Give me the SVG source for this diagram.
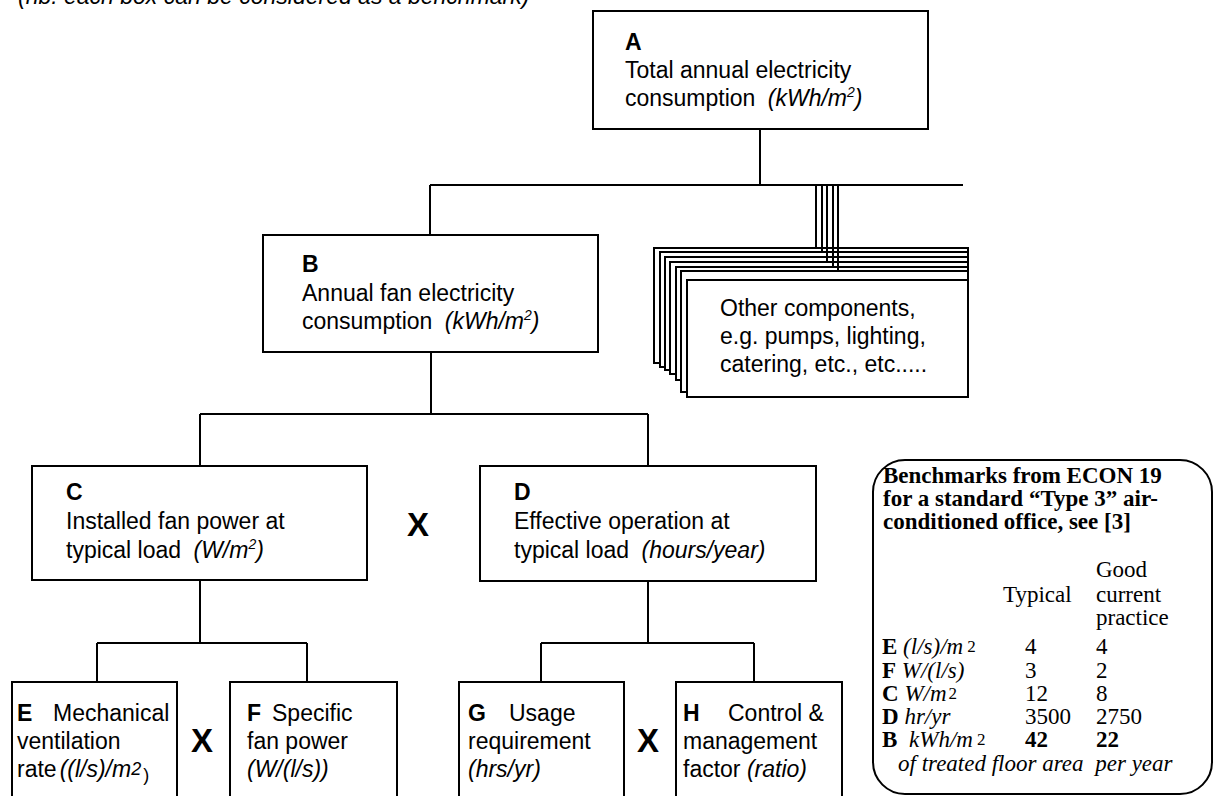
<svg xmlns="http://www.w3.org/2000/svg" width="1214" height="796" viewBox="0 0 1214 796">
<style>
.box{fill:#fff;stroke:#000;stroke-width:2}
.ln{fill:none;stroke:#000;stroke-width:2}
.t{font-family:"Liberation Sans",Arial,Helvetica,sans-serif;font-size:23px;fill:#000}
.b{font-weight:bold}
.i{font-style:italic}
.x{font-family:"Liberation Sans",Arial,Helvetica,sans-serif;font-size:33px;font-weight:bold;fill:#000;text-anchor:middle}
.s{font-family:"Liberation Serif","Times New Roman",serif;font-size:23px;fill:#000}
</style>
<rect width="1214" height="796" fill="#fff"/>
<text class="t i" x="18" y="4" font-size="17">(nb: each box can be considered as a benchmark)</text>

<g id="nodeA">
<rect class="box" x="593" y="11" width="335" height="118"/>
<text class="t b" x="625" y="50">A</text>
<text class="t" x="625" y="78">Total annual electricity</text>
<text class="t" x="625" y="106">consumption <tspan class="i" dx="6">(kWh/m</tspan><tspan class="i" font-size="14" dy="-9">2</tspan><tspan class="i" dy="9">)</tspan></text>
</g>

<g id="nodeB">
<rect class="box" x="263" y="235" width="335" height="117"/>
<text class="t b" x="302" y="272">B</text>
<text class="t" x="302" y="301">Annual fan electricity</text>
<text class="t" x="302" y="329">consumption <tspan class="i" dx="6">(kWh/m</tspan><tspan class="i" font-size="14" dy="-9">2</tspan><tspan class="i" dy="9">)</tspan></text>
</g>

<g id="nodeOther">
<rect class="box" x="654" y="248" width="314" height="115"/>
<rect class="box" x="660" y="252" width="308" height="115"/>
<rect class="box" x="665" y="257" width="303" height="113"/>
<rect class="box" x="670" y="262" width="298" height="112"/>
<rect class="box" x="676" y="267" width="292" height="113"/>
<rect class="box" x="681" y="271" width="287" height="121"/>
<rect class="box" x="687" y="280" width="281" height="117"/>
<text class="t" x="720" y="316">Other components,</text>
<text class="t" x="720" y="344">e.g. pumps, lighting,</text>
<text class="t" x="720" y="372">catering, etc., etc.....</text>
</g>

<g id="nodeC">
<rect class="box" x="32" y="466" width="335" height="114"/>
<text class="t b" x="66" y="500">C</text>
<text class="t" x="66" y="529">Installed fan power at</text>
<text class="t" x="66" y="558">typical load <tspan class="i" dx="6">(W/m</tspan><tspan class="i" font-size="14" dy="-9">2</tspan><tspan class="i" dy="9">)</tspan></text>
</g>

<g id="nodeD">
<rect class="box" x="480" y="466" width="336" height="115"/>
<text class="t b" x="514" y="500">D</text>
<text class="t" x="514" y="529">Effective operation at</text>
<text class="t" x="514" y="558">typical load <tspan class="i" dx="6">(hours/year)</tspan></text>
</g>

<g id="nodeE">
<rect class="box" x="12" y="682" width="165" height="130"/>
<text class="t" x="17" y="721"><tspan class="b">E</tspan><tspan x="53">Mechanical</tspan></text>
<text class="t" x="17" y="749">ventilation</text>
<text class="t" x="17" y="777">rate<tspan class="i" dx="3">((l/s)/m</tspan><tspan class="i" font-size="18" dy="-2">2</tspan><tspan font-size="18" dx="2" dy="6">)</tspan></text>
</g>

<g id="nodeF">
<rect class="box" x="230" y="682" width="167" height="130"/>
<text class="t" x="247" y="721"><tspan class="b">F</tspan><tspan x="272">Specific</tspan></text>
<text class="t" x="247" y="749">fan power</text>
<text class="t i" x="247" y="777">(W/(l/s))</text>
</g>

<g id="nodeG">
<rect class="box" x="459" y="682" width="165" height="130"/>
<text class="t" x="468" y="721"><tspan class="b">G</tspan><tspan x="509">Usage</tspan></text>
<text class="t" x="468" y="749">requirement</text>
<text class="t i" x="468" y="777">(hrs/yr)</text>
</g>

<g id="nodeH">
<rect class="box" x="676" y="682" width="166" height="130"/>
<text class="t" x="683" y="721"><tspan class="b">H</tspan><tspan x="728">Control &amp;</tspan></text>
<text class="t" x="683" y="749">management</text>
<text class="t" x="683" y="777">factor <tspan class="i">(ratio)</tspan></text>
</g>

<g id="operators">
<text class="x" x="418" y="536">X</text>
<text class="x" x="202" y="752">X</text>
<text class="x" x="648" y="752">X</text>
</g>

<g id="benchmarks">
<rect x="873" y="460" width="339" height="334" rx="32" ry="32" fill="#fff" stroke="#000" stroke-width="2"/>
<text class="s b" x="883" y="483">Benchmarks from ECON 19</text>
<text class="s b" x="883" y="506">for a standard “Type 3” air-</text>
<text class="s b" x="883" y="529">conditioned office, see [3]</text>
<text class="s" x="1096" y="577">Good</text>
<text class="s" x="1003" y="602">Typical</text>
<text class="s" x="1096" y="602">current</text>
<text class="s" x="1096" y="625">practice</text>
<text class="s" x="882" y="654"><tspan class="b">E</tspan> <tspan class="i">(l/s)/m</tspan><tspan font-size="17" dx="4" dy="-2">2</tspan></text>
<text class="s" x="882" y="678"><tspan class="b">F</tspan> <tspan class="i">W/(l/s)</tspan></text>
<text class="s" x="882" y="701"><tspan class="b">C</tspan> <tspan class="i">W/m</tspan><tspan font-size="17" dx="2" dy="-2">2</tspan></text>
<text class="s" x="882" y="724"><tspan class="b">D</tspan> <tspan class="i">hr/yr</tspan></text>
<text class="s" x="882" y="747"><tspan class="b">B</tspan> <tspan class="i" dx="6">kWh/m</tspan><tspan font-size="17" dx="4" dy="-2">2</tspan></text>
<text class="s" x="1025" y="654">4</text>
<text class="s" x="1096" y="654">4</text>
<text class="s" x="1025" y="678">3</text>
<text class="s" x="1096" y="678">2</text>
<text class="s" x="1025" y="701">12</text>
<text class="s" x="1096" y="701">8</text>
<text class="s" x="1025" y="724">3500</text>
<text class="s" x="1096" y="724">2750</text>
<text class="s b" x="1025" y="747">42</text>
<text class="s b" x="1096" y="747">22</text>
<text class="s i" x="898" y="771">of treated floor area <tspan dx="6">per year</tspan></text>
</g>

<g id="connectors" class="ln">
<path d="M760 129V185M430 185H963M430 185V235"/>
<path d="M816 185V248M822 185V252M827 185V262M833 185V267M838 185V271"/>
<path d="M431 352V414M200 414H648M200 414V466M648 414V466"/>
<path d="M200 580V643M97 643H307M97 643V682M307 643V682"/>
<path d="M648 581V643M541 643H754M541 643V682M754 643V682"/>
</g>
</svg>
